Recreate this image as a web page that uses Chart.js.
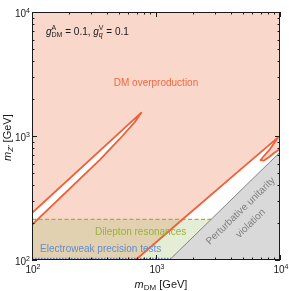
<!DOCTYPE html>
<html>
<head>
<meta charset="utf-8">
<script src="https://cdn.jsdelivr.net/npm/chart.js@4.4.1/dist/chart.umd.min.js"></script>
<style>
html, body { margin: 0; padding: 0; background: #fff; }
</style>
</head>
<body>
<canvas id="chart_relic" width="289" height="291"></canvas>
<script>
// values in GeV (x = m_DM, y = m_Z')
var band_upper_mdm = [100, 761];
var band_upper_mz  = [239, 1542];
var band_lower_mdm = [761, 671, 509, 352, 100];
var band_lower_mz  = [1542, 1288, 946, 643, 192];

var relic_mdm = [684, 1633, 5140, 9600, 8318, 7300, 6970, 7430, 8166, 8960, 10000];
var relic_mz  = [100, 212, 569, 970, 785, 677, 640, 634, 677, 729, 785];

var unitarity_mdm = [1283, 10000];
var unitarity_mz  = [100, 740];

var dilepton_mdm = [100, 2790];
var dilepton_mz  = [213, 213];

var ewpt_mdm = [100, 1321];
var ewpt_mz  = [103, 103];

var axis_min = 100;
var axis_max = 10000;
var major_ticks = [100, 1000, 10000];
var major_exp = ['2', '3', '4'];

var FONT = '"Liberation Sans", Arial, sans-serif';

function pts(xs, ys) {
    var out = [];
    for (var i = 0; i < xs.length; i++) out.push({x: xs[i], y: ys[i]});
    return out;
}

function area(data, color, order) {
    return {
        data: data, fill: 'shape', backgroundColor: color,
        borderColor: 'transparent', borderWidth: 0, pointRadius: 0, order: order
    };
}

function curve(data, color, width, dash, order) {
    return {
        data: data, fill: false, borderColor: color, borderWidth: width,
        borderDash: dash, borderJoinStyle: 'round', pointRadius: 0, order: order
    };
}

var corners = pts([axis_min, axis_max, axis_max, axis_min], [axis_min, axis_min, axis_max, axis_max]);
var band = pts(band_upper_mdm, band_upper_mz).concat(pts(band_lower_mdm, band_lower_mz));
var relic = pts(relic_mdm, relic_mz);
var unitarity = pts(unitarity_mdm, unitarity_mz);
var dilepton = pts(dilepton_mdm, dilepton_mz);
var ewpt = pts(ewpt_mdm, ewpt_mz);

// draws a run of text pieces; sup pieces stack over the following sub piece
function drawPieces(ctx, x, y, pieces) {
    var supW = 0;
    pieces.forEach(function(p) {
        ctx.font = p.f;
        ctx.fillText(p.t, x, y + (p.dy || 0));
        var w = ctx.measureText(p.t).width;
        if (p.sup) { supW = w; return; }
        x += Math.max(w, supW);
        supW = 0;
    });
}

function piecesWidth(ctx, pieces) {
    var w = 0, supW = 0;
    pieces.forEach(function(p) {
        ctx.font = p.f;
        var pw = ctx.measureText(p.t).width;
        if (p.sup) { supW = pw; return; }
        w += Math.max(pw, supW);
        supW = 0;
    });
    return w;
}

function powPieces(exp) {
    return [{t: '10', f: '10px ' + FONT}, {t: exp, f: '7px ' + FONT, dy: -4}];
}

var decorations = {
    id: 'decorations',
    afterDatasetsDraw: function(chart) {
        var ctx = chart.ctx;
        var xs = chart.scales.x, ys = chart.scales.y;
        ctx.save();
        ctx.textBaseline = 'alphabetic';
        ctx.textAlign = 'center';

        ctx.font = '10px ' + FONT;
        ctx.fillStyle = 'rgb(238,105,65)';
        ctx.fillText('DM overproduction', xs.getPixelForValue(1000), ys.getPixelForValue(2700) + 3.5);

        ctx.fillStyle = 'rgb(150,180,60)';
        ctx.fillText('Dilepton resonances', xs.getPixelForValue(752), ys.getPixelForValue(171) + 3.5);

        ctx.fillStyle = 'rgb(100,140,205)';
        ctx.fillText('Electroweak precision tests', xs.getPixelForValue(358), ys.getPixelForValue(123) + 3.5);

        // rotated along the unitarity line
        var x0 = xs.getPixelForValue(unitarity_mdm[0]), y0 = ys.getPixelForValue(unitarity_mz[0]);
        var x1 = xs.getPixelForValue(unitarity_mdm[1]), y1 = ys.getPixelForValue(unitarity_mz[1]);
        var ang = Math.atan2(y1 - y0, x1 - x0);
        ctx.fillStyle = 'rgb(128,128,128)';
        [['Perturbative unitarity', 4775, 251], ['violation', 5740, 199]].forEach(function(l) {
            ctx.save();
            ctx.translate(xs.getPixelForValue(l[1]), ys.getPixelForValue(l[2]));
            ctx.rotate(ang);
            ctx.fillText(l[0], 0, 3.5);
            ctx.restore();
        });
        ctx.restore();
    },
    afterDraw: function(chart) {
        var ctx = chart.ctx;
        var a = chart.chartArea;
        var xs = chart.scales.x, ys = chart.scales.y;
        ctx.save();
        ctx.strokeStyle = '#1a1a1a';
        ctx.fillStyle = '#1a1a1a';
        ctx.lineWidth = 1;
        ctx.strokeRect(a.left + 0.5, a.top + 0.5, a.right - a.left - 1, a.bottom - a.top - 1);

        // inward ticks on all four sides
        ctx.beginPath();
        for (var d = axis_min; d < axis_max * 1.01; d *= 10) {
            for (var k = 1; k <= 9; k++) {
                var v = d * k;
                if (v > axis_max * 1.001) break;
                var len = (k === 1) ? 5 : 2.5;
                var px = Math.round(xs.getPixelForValue(v)) + 0.5;
                var py = Math.round(ys.getPixelForValue(v)) + 0.5;
                ctx.moveTo(px, a.bottom); ctx.lineTo(px, a.bottom - len);
                ctx.moveTo(px, a.top); ctx.lineTo(px, a.top + len);
                ctx.moveTo(a.left, py); ctx.lineTo(a.left + len, py);
                ctx.moveTo(a.right, py); ctx.lineTo(a.right - len, py);
            }
        }
        ctx.stroke();

        ctx.textAlign = 'left';
        ctx.textBaseline = 'alphabetic';
        major_ticks.forEach(function(v, i) {
            var pc = powPieces(major_exp[i]);
            var w = piecesWidth(ctx, pc);
            drawPieces(ctx, xs.getPixelForValue(v) - w / 2 + 1, a.bottom + 13, pc);
            drawPieces(ctx, a.left - 2 - w, ys.getPixelForValue(v) + 5, pc);
        });

        var xt = [
            {t: 'm', f: 'italic 11px ' + FONT},
            {t: 'DM', f: '8px ' + FONT, dy: 2},
            {t: ' [GeV]', f: '11px ' + FONT}
        ];
        drawPieces(ctx, 161 - piecesWidth(ctx, xt) / 2, 288, xt);

        var yt = [
            {t: 'm', f: 'italic 11px ' + FONT},
            {t: 'Z\u2032', f: 'italic 8px ' + FONT, dy: 2},
            {t: ' [GeV]', f: '11px ' + FONT}
        ];
        ctx.save();
        ctx.translate(11, 161);
        ctx.rotate(-Math.PI / 2);
        drawPieces(ctx, 0, 0, yt);
        ctx.restore();

        var gl = [
            {t: 'g', f: 'italic 10px ' + FONT},
            {t: 'A', f: '7px ' + FONT, dy: -5, sup: true},
            {t: 'DM', f: '7px ' + FONT, dy: 2},
            {t: ' = 0.1, ', f: '10px ' + FONT},
            {t: 'g', f: 'italic 10px ' + FONT},
            {t: 'V', f: '7px ' + FONT, dy: -5, sup: true},
            {t: 'q', f: 'italic 7px ' + FONT, dy: 2},
            {t: ' = 0.1', f: '10px ' + FONT}
        ];
        drawPieces(ctx, a.left + 14, a.top + 23, gl);
        ctx.restore();
    }
};

window.chart_relic = new Chart(document.getElementById('chart_relic'), {
    type: 'scatter',
    data: {
        datasets: [
            area(corners, 'rgb(250,215,203)', 20),
            area(band, '#ffffff', 19),
            area(relic.concat([{x: axis_max, y: axis_min}]), '#ffffff', 18),
            area(unitarity.concat([{x: axis_max, y: axis_min}]), 'rgb(217,217,217)', 17),
            area([{x: axis_min, y: axis_min}].concat(dilepton).concat([unitarity[0]]), 'rgba(172,195,115,0.3)', 16),
            curve(ewpt, 'rgb(90,125,195)', 1.2, [1.5, 1.5], 5),
            curve(dilepton, 'rgb(175,168,70)', 1.2, [4, 2.5], 4),
            curve(unitarity, 'rgb(130,130,130)', 1, [], 3),
            curve(band, 'rgb(238,96,56)', 1.8, [], 2),
            curve(relic, 'rgb(238,96,56)', 1.8, [], 1)
        ]
    },
    options: {
        responsive: false,
        animation: false,
        devicePixelRatio: 1,
        showLine: true,
        layout: { padding: { left: 32, top: 12, right: 9, bottom: 31 } },
        plugins: { legend: { display: false }, tooltip: { enabled: false } },
        scales: {
            x: { type: 'logarithmic', min: axis_min, max: axis_max, display: false },
            y: { type: 'logarithmic', min: axis_min, max: axis_max, display: false }
        }
    },
    plugins: [decorations]
});
</script>
</body>
</html>
